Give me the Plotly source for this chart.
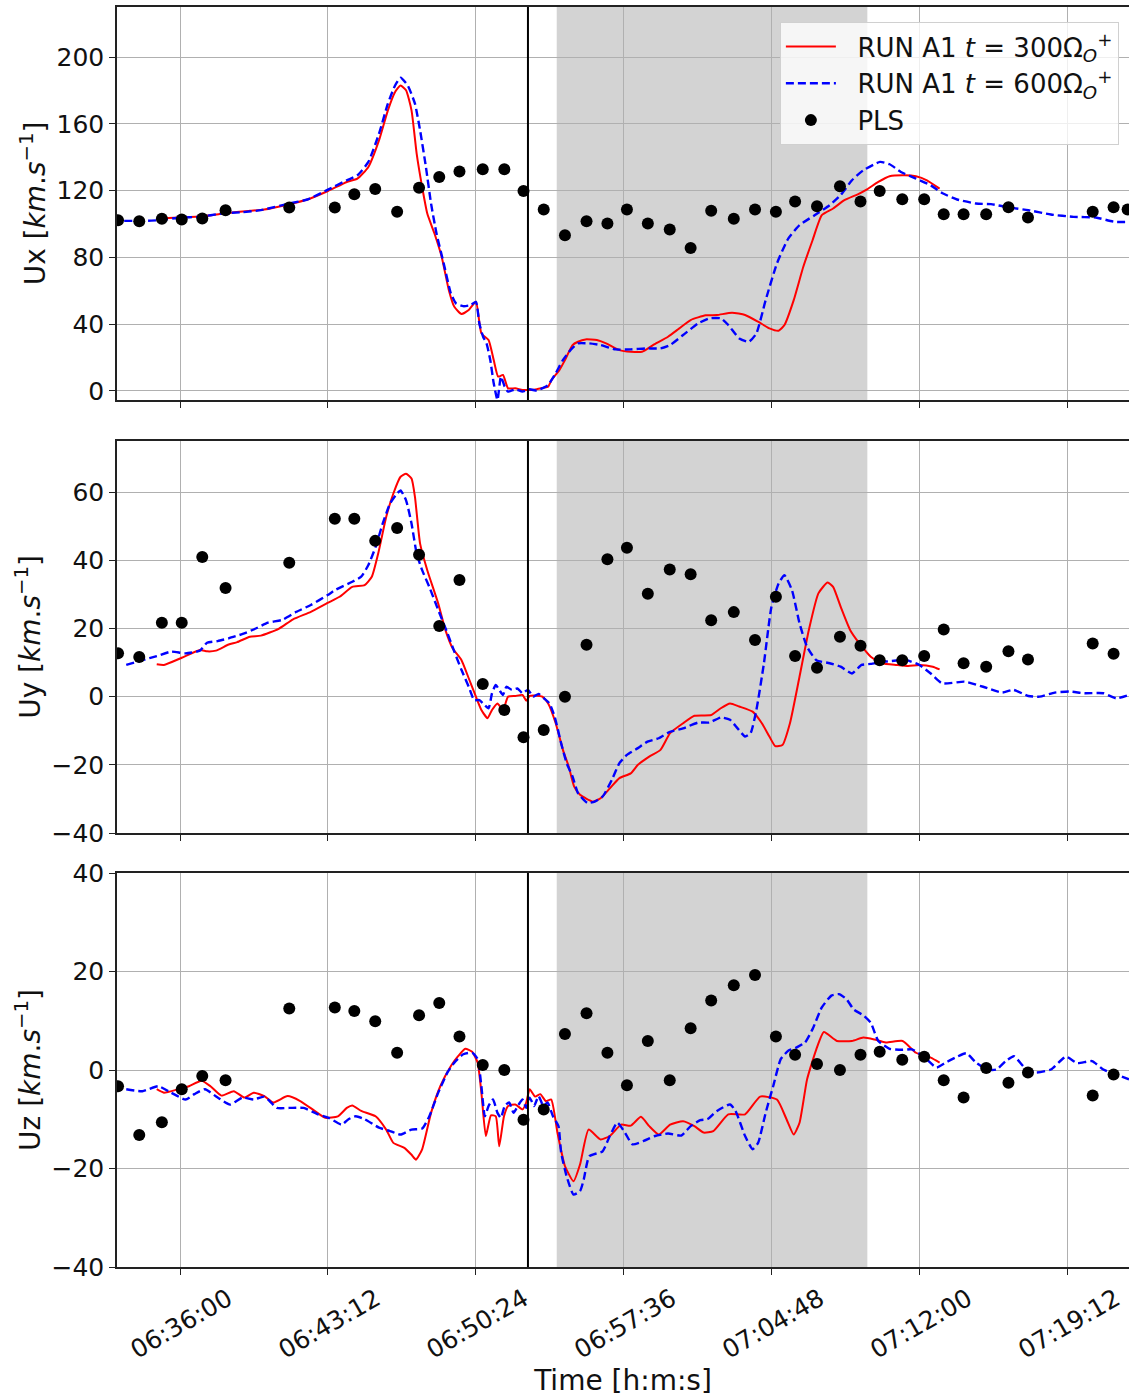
import pandas as pd
import plotly.graph_objects as go
from plotly.subplots import make_subplots

# ---- time reference: values below are minutes after 06:30:00 ----
BASE = pd.Timestamp("2000-01-01 06:30:00")

# ---------------- PLS observations ----------------
pls_t = [2.98, 4.01, 5.11, 6.09, 7.08, 8.22, 11.32, 13.54, 14.48, 15.50, 16.56, 17.63,
         18.62, 19.60, 20.73, 21.78, 22.72, 23.70, 24.73, 25.79, 26.80, 27.75, 28.77,
         29.83, 30.85, 31.85, 32.95, 33.99, 35.00, 35.94, 37.00, 38.12, 39.12, 40.05,
         41.15, 42.21, 43.16, 44.13, 45.24, 46.32, 47.27, 50.41, 51.43, 52.12]
pls_ux = [102.3, 101.7, 103.1, 102.7, 103.3, 108.3, 109.9, 109.9, 117.8, 121.0, 107.3, 121.8,
          128.2, 131.4, 132.8, 132.8, 119.8, 108.7, 93.3, 101.7, 100.3, 108.7, 100.3,
          96.7, 85.7, 107.9, 103.1, 108.7, 107.3, 113.5, 110.7, 122.6, 113.5, 119.8,
          114.9, 114.9, 105.9, 105.9, 105.9, 110.1, 103.9, 107.3, 110.1, 108.7]
pls_uy = [12.7, 11.6, 21.7, 21.7, 41.0, 31.9, 39.3, 52.2, 52.2, 45.7, 49.5, 41.6,
          20.7, 34.2, 3.7, -3.9, -11.9, -9.8, 0.0, 15.2, 40.3, 43.7, 30.2,
          37.3, 35.9, 22.4, 24.8, 16.6, 29.3, 11.9, 8.5, 17.6, 14.9, 10.7,
          10.7, 11.9, 19.7, 9.8, 8.8, 13.3, 10.9, 15.6, 12.6, None]
pls_uz = [-3.3, -13.2, -10.6, -3.9, -1.2, -2.1, 12.5, 12.7, 12.0, 9.9, 3.5, 11.1,
          13.6, 6.8, 1.0, 0.0, -10.1, -8.0, 7.3, 11.5, 3.5, -3.1, 5.9,
          -2.1, 8.5, 14.1, 17.2, 19.3, 6.8, 3.1, 1.2, 0.0, 3.1, 3.7,
          2.1, 2.7, -2.1, -5.6, 0.4, -2.6, -0.5, -5.2, -0.9, None]

# ---------------- RUN A1 t=300 (red) ----------------
r_ux_t = [4.87, 6.0, 7.13, 8.36, 9.40, 10.1, 11.32, 12.2, 13.2, 14.12, 14.64, 15.16, 15.69,
          16.12, 16.47, 16.73, 17.0, 17.26, 17.52, 17.78, 18.04, 18.39, 18.74, 19.09, 19.35,
          19.70, 20.05, 20.40, 20.66, 21.01, 21.27, 21.48, 21.71, 21.97, 22.32, 22.67, 23.02,
          23.37, 23.70, 23.91, 24.09, 24.46, 24.73, 25.1, 25.37, 25.74, 26.29, 26.74, 27.38,
          27.93, 28.48, 29.02, 29.75, 30.3, 30.85, 31.58, 32.13, 32.86, 33.5, 34.14, 34.68,
          35.14, 35.42, 35.87, 36.33, 36.78, 37.24, 37.79, 38.34, 38.98, 39.43, 39.98, 40.53,
          41.26, 41.81, 42.35, 42.96]
r_ux = [103.3, 103.9, 104.7, 106.7, 107.9, 108.7, 111.9, 114.7, 119.8, 125.2, 127.2, 134.2, 150.1,
        168.1, 179.1, 183.0, 180.1, 168.1, 142.2, 122.2, 106.3, 94.3, 80.4, 60.4, 50.4,
        46.1, 48.5, 53.4, 34.5, 30.5, 18.5, 8.6, 9.6, 1.6, 1.6, 0.6, 0.6,
        1.0, 2.0, 2.6, 6.6, 12.6, 18.5, 27.5, 29.5, 30.9, 30.5, 28.5, 24.5,
        23.5, 23.5, 27.5, 32.5, 37.5, 42.5, 45.3, 45.5, 46.9, 45.5, 41.5, 37.5,
        36.1, 39.5, 54.4, 74.4, 90.3, 105.3, 109.3, 114.3, 117.8, 120.8, 125.2, 128.6,
        129.2, 128.6, 126.2, 121.2]

r_uy_t = [4.87, 5.21, 6.09, 6.96, 7.31, 7.75, 8.36, 8.79, 9.40, 9.93, 10.80, 11.50, 12.37,
          13.19, 13.77, 14.38, 14.99, 15.34, 15.69, 16.04, 16.39, 16.73, 17.0, 17.26, 17.43,
          17.69, 18.04, 18.57, 18.92, 19.27, 19.70, 20.05, 20.40, 20.66, 20.96, 21.19, 21.45,
          21.71, 21.97, 22.32, 22.67, 22.85, 23.02, 23.37, 23.63, 23.91, 24.28, 24.64, 24.92,
          25.19, 25.46, 25.74, 26.1, 26.47, 26.92, 27.38, 27.93, 28.29, 28.84, 29.39, 29.85,
          30.49, 31.03, 31.85, 32.31, 32.77, 33.22, 33.86, 34.32, 34.68, 34.96, 35.32, 35.69,
          36.15, 36.6, 37.06, 37.52, 37.79, 38.15, 38.61, 39.07, 39.62, 40.16, 40.89, 41.44,
          41.99, 42.63, 42.96]
r_uy = [9.5, 9.3, 11.4, 13.7, 13.3, 13.5, 15.3, 16.0, 17.6, 17.9, 19.9, 22.7, 24.9,
        27.5, 29.3, 32.2, 32.7, 35.2, 43.0, 52.7, 59.6, 64.5, 65.4, 64.0, 58.6,
        44.9, 37.1, 27.3, 19.5, 14.2, 10.7, 5.4, 0.0, -3.9, -6.3, -3.9, -2.0,
        -3.9, 0.0, 0.2, 0.5, -1.2, 0.2, 0.3, 0.0, -2.0, -7.8, -15.6, -20.5,
        -26.4, -28.8, -29.8, -30.8, -29.8, -26.9, -23.9, -22.5, -20.0, -17.6, -15.6, -10.7,
        -7.8, -5.6, -5.4, -3.4, -2.0, -2.9, -4.4, -7.8, -11.7, -14.5, -14.2, -7.8,
        5.9, 19.5, 30.3, 33.5, 32.2, 26.4, 19.5, 15.6, 11.7, 9.8, 9.3, 9.0,
        9.3, 8.8, 8.0]

r_uz_t = [4.87, 5.21, 5.91, 6.44, 7.05, 7.48, 8.01, 8.62, 9.14, 9.58, 10.1, 10.54, 11.24,
          11.85, 12.55, 13.07, 13.68, 14.12, 14.38, 14.81, 15.51, 16.04, 16.39, 16.91, 17.26,
          17.49, 17.78, 18.22, 18.66, 19.18, 19.53, 19.88, 20.22, 20.49, 20.66, 20.89, 21.13,
          21.36, 21.54, 21.76, 21.97, 22.32, 22.67, 22.85, 23.02, 23.28, 23.54, 23.80, 24.06,
          24.37, 24.73, 25.15, 25.46, 25.88, 26.47, 26.92, 27.47, 27.93, 28.44, 28.84, 29.3,
          29.85, 30.49, 31.03, 31.49, 31.95, 32.68, 33.5, 34.23, 35.05, 35.51, 35.87, 36.15,
          36.51, 36.97, 37.33, 37.97, 38.7, 39.25, 39.8, 40.35, 41.17, 41.81, 42.54, 42.96]
r_uz = [-3.9, -4.6, -3.9, -3.3, -2.2, -3.3, -5.2, -4.3, -5.6, -4.6, -5.3, -6.6, -5.3,
        -6.3, -8.3, -9.7, -9.4, -7.7, -7.2, -8.3, -9.4, -12.1, -14.8, -15.8, -17.2,
        -18.2, -16.1, -8.7, -3.3, 0.8, 2.8, 4.3, 3.7, 1.5, -4.6, -13.4, -9.2,
        -9.4, -15.5, -9.4, -7.3, -7.0, -8.0, -6.6, -3.9, -5.4, -4.9, -6.3, -6.0,
        -12.7, -19.5, -22.6, -19.2, -12.1, -14.1, -13.4, -11.1, -11.3, -9.5, -11.4, -13.1,
        -11.1, -10.4, -11.4, -12.7, -12.4, -9.0, -9.0, -5.4, -6.0, -10.0, -13.1, -10.7,
        -1.9, 4.2, 7.7, 5.9, 5.9, 6.6, 6.2, 5.6, 5.9, 3.5, 2.5, 1.5]

# ---------------- RUN A1 t=600 (blue) ----------------
b_ux_t = [3.29, 4.17, 5.04, 6.0, 6.96, 8.01, 9.05, 9.93, 11.32, 12.2, 13.2, 14.12, 14.64,
          15.16, 15.69, 16.12, 16.47, 16.73, 17.08, 17.43, 17.69, 17.96, 18.22, 18.48, 18.83,
          19.18, 19.44, 19.79, 20.14, 20.40, 20.57, 20.75, 20.92, 21.10, 21.27, 21.45, 21.62,
          21.80, 21.97, 22.32, 22.67, 23.02, 23.37, 23.70, 23.91, 24.28, 24.64, 25.0, 25.37,
          25.92, 26.47, 27.2, 27.93, 28.66, 29.39, 29.85, 30.49, 31.22, 31.76, 32.31, 32.68,
          33.22, 33.68, 34.05, 34.5, 35.05, 35.6, 36.15, 36.88, 37.61, 38.15, 38.7, 39.25,
          40.07, 40.53, 41.08, 41.81, 42.54, 43.08, 43.81, 44.73, 45.46, 46.37, 47.28, 48.38,
          49.48, 50.57, 51.48, 52.18]
b_ux = [101.9, 101.9, 102.3, 103.9, 104.3, 106.3, 107.1, 108.3, 112.3, 114.7, 120.6, 126.2, 129.2,
        137.2, 154.1, 172.1, 183.0, 187.6, 183.0, 172.1, 156.1, 134.2, 112.3, 94.3, 76.4,
        58.4, 52.4, 50.8, 51.4, 53.4, 40.5, 32.5, 28.5, 18.5, 4.6, -5.4, 8.6,
        2.6, -0.4, 1.0, -0.4, 1.0, 0.2, 2.0, 3.6, 10.6, 18.5, 24.5, 28.5,
        28.5, 27.5, 24.9, 24.9, 25.5, 25.5, 27.5, 33.5, 40.5, 43.5, 43.5, 39.5,
        31.5, 29.5, 34.5, 54.4, 76.4, 91.3, 99.3, 105.3, 111.3, 117.3, 126.2, 132.2,
        137.2, 135.8, 131.2, 127.2, 123.2, 118.6, 114.7, 112.3, 111.9, 109.9, 108.3, 105.7,
        104.3, 103.9, 101.3, 101.3]

b_uy_t = [3.38, 4.17, 4.87, 5.56, 6.26, 6.96, 7.31, 7.83, 8.36, 9.05, 9.58, 10.28, 10.97,
          11.67, 12.37, 13.19, 13.59, 14.38, 14.81, 15.16, 15.51, 15.86, 16.21, 16.56, 16.73,
          17.0, 17.26, 17.52, 17.78, 18.13, 18.57, 19.01, 19.35, 19.70, 20.05, 20.31, 20.57,
          20.75, 21.01, 21.19, 21.36, 21.54, 21.71, 21.89, 22.15, 22.41, 22.67, 22.93, 23.19,
          23.45, 23.71, 23.98, 24.24, 24.55, 24.82, 25.1, 25.37, 25.65, 25.83, 26.19, 26.56,
          27.02, 27.38, 27.75, 28.29, 28.75, 29.3, 29.85, 30.49, 31.22, 31.76, 32.31, 32.77,
          33.13, 33.5, 33.77, 34.05, 34.41, 34.78, 35.14, 35.42, 35.78, 36.15, 36.51, 36.97,
          37.61, 38.15, 38.7, 39.16, 39.62, 40.35, 41.35, 41.99, 42.54, 43.08, 44.18, 45.09,
          46.01, 46.55, 47.28, 47.83, 48.56, 49.29, 50.02, 50.93, 51.57, 52.18]
b_uy = [9.3, 10.7, 11.9, 13.2, 12.7, 13.5, 15.8, 16.3, 17.1, 18.4, 19.7, 21.7, 22.5,
        24.9, 26.9, 29.8, 31.4, 33.7, 35.2, 38.6, 43.9, 50.8, 56.6, 59.6, 60.5,
        57.6, 50.8, 42.0, 37.1, 32.2, 25.4, 18.6, 13.2, 7.8, 2.9, -1.0, -1.0,
        -2.0, -3.4, 1.0, 3.4, 2.0, 0.5, 2.9, 2.0, 2.4, 1.0, 2.0, 0.0,
        0.8, -0.5, -2.0, -5.9, -13.7, -19.5, -23.4, -28.3, -30.3, -31.2, -30.8, -29.3,
        -24.4, -19.5, -17.1, -15.1, -13.2, -12.2, -10.3, -9.3, -7.6, -7.6, -6.1, -6.8,
        -9.3, -11.7, -10.7, -3.9, 9.8, 26.4, 33.2, 35.6, 31.2, 21.5, 14.6, 10.7,
        9.8, 8.8, 6.8, 9.3, 9.6, 10.3, 10.7, 9.3, 6.8, 3.9, 4.4, 2.9,
        1.2, 2.0, 0.2, 0.0, 1.2, 1.5, 1.0, 1.0, -0.5, 0.5]

b_uz_t = [3.38, 4.17, 4.95, 5.56, 6.26, 6.70, 7.22, 7.83, 8.44, 9.05, 9.58, 10.1, 10.71,
          11.32, 12.02, 12.72, 13.24, 13.86, 14.2, 14.55, 14.99, 15.69, 16.21, 16.73, 17.26,
          17.78, 18.13, 18.57, 19.01, 19.35, 19.79, 20.22, 20.49, 20.66, 20.84, 21.01, 21.24,
          21.45, 21.62, 21.80, 22.01, 22.23, 22.49, 22.67, 22.85, 23.02, 23.23, 23.45, 23.68,
          23.89, 24.15, 24.41, 24.55, 24.82, 25.15, 25.46, 25.65, 25.92, 26.56, 26.92, 27.29,
          27.65, 28.02, 28.57, 29.12, 29.75, 30.4, 30.85, 31.31, 31.67, 32.13, 32.77, 33.04,
          33.5, 33.86, 34.14, 34.5, 34.87, 35.23, 35.6, 35.96, 36.42, 36.78, 37.24, 37.7,
          38.06, 38.43, 38.79, 39.25, 39.62, 39.98, 40.53, 41.17, 41.62, 42.17, 42.81, 43.27,
          43.72, 44.27, 44.73, 45.28, 45.73, 46.19, 46.59, 47.1, 47.65, 48.38, 49.11, 49.66,
          50.39, 50.93, 51.57, 52.18]
b_uz = [-3.9, -4.3, -3.3, -4.6, -6.0, -4.9, -3.9, -5.6, -7.0, -5.6, -6.0, -5.4, -7.7,
        -7.7, -7.7, -9.0, -9.7, -11.1, -10.0, -9.4, -10.0, -11.7, -12.4, -13.1, -12.1,
        -11.9, -9.4, -4.6, -0.5, 1.5, 3.2, 3.5, 2.2, -3.3, -9.4, -7.3, -6.0,
        -8.7, -9.7, -7.3, -6.6, -8.7, -7.0, -6.0, -7.7, -5.6, -7.3, -5.3, -7.3,
        -6.6, -9.4, -11.4, -16.8, -21.6, -25.3, -24.6, -22.2, -17.5, -16.5, -13.4, -10.7,
        -12.7, -15.1, -14.4, -13.4, -12.9, -13.3, -11.4, -10.2, -10.0, -8.3, -7.0, -8.3,
        -13.4, -16.1, -14.8, -8.7, -3.3, 2.2, 3.9, 4.5, 5.6, 8.3, 12.7, 15.1,
        15.4, 14.4, 12.3, 11.1, 9.6, 5.9, 4.3, 4.1, 4.2, 2.8, 0.5, 1.5,
        2.5, 3.4, 1.5, 0.1, 0.1, 1.8, 2.8, 0.5, -0.5, 0.1, 2.7, 1.4,
        1.8, 0.1, -0.9, -1.9]

# ---------------- axes / annotations values ----------------
x_range = [2.93, 52.18]
x_ticks = [6.0, 13.2, 20.4, 27.6, 34.8, 42.0, 49.2]
event_line = 22.93
shade_span = [24.33, 39.45]
y_ranges = [[-5.4, 230], [-40, 75], [-40, 40]]
y_ticks = [[0, 40, 80, 120, 160, 200], [-40, -20, 0, 20, 40, 60], [-40, -20, 0, 20, 40]]
y_titles = ["Ux [<i>km</i>.<i>s</i><sup>−1</sup>]",
            "Uy [<i>km</i>.<i>s</i><sup>−1</sup>]",
            "Uz [<i>km</i>.<i>s</i><sup>−1</sup>]"]
NB = "\u00a0\u00a0"
leg_red = NB + "RUN A1 <i>t</i> = 300Ω<sub><i>O</i></sub><sup>+</sup>"
leg_blue = NB + "RUN A1 <i>t</i> = 600Ω<sub><i>O</i></sub><sup>+</sup>"
leg_pls = NB + "PLS"


def to_dt(mins):
    return [BASE + pd.Timedelta(seconds=round(m * 60)) for m in mins]


FONT = "DejaVu Sans"
TICK_SIZE = 25
TITLE_SIZE = 28
LEGEND_SIZE = 26
W, H = 1129, 1400
ML, MR, MT, MB = 117, 0, 7, 133
plot_h = H - MT - MB
# panel pixel bounds (top, bottom)
panels_px = [(7, 400), (441, 833), (873, 1267)]
domains = [[(H - MB - b) / plot_h, (H - MB - t) / plot_h] for t, b in panels_px]

fig = make_subplots(rows=3, cols=1)

series = [
    (r_ux_t, r_ux, b_ux_t, b_ux, pls_ux),
    (r_uy_t, r_uy, b_uy_t, b_uy, pls_uy),
    (r_uz_t, r_uz, b_uz_t, b_uz, pls_uz),
]

for i, (rt, rv, bt, bv, pv) in enumerate(series):
    row = i + 1
    first = i == 0
    fig.add_trace(go.Scatter(x=to_dt(rt), y=rv, mode="lines", name=leg_red,
                             line=dict(color="#ff0000", width=2, shape="spline", smoothing=0.5),
                             showlegend=first, legendrank=1), row=row, col=1)
    fig.add_trace(go.Scatter(x=to_dt(bt), y=bv, mode="lines", name=leg_blue,
                             line=dict(color="#0000ff", width=2.4, dash="8px,4px",
                                       shape="spline", smoothing=0.5),
                             showlegend=first, legendrank=2), row=row, col=1)
    fig.add_trace(go.Scatter(x=to_dt(pls_t), y=pv, mode="markers", name=leg_pls,
                             marker=dict(color="black", size=12), showlegend=first,
                             legendrank=3), row=row, col=1)

    xa = "x" if row == 1 else f"x{row}"
    ya = "y" if row == 1 else f"y{row}"
    fig.add_shape(type="rect", xref=xa, yref=f"{ya} domain",
                  x0=to_dt([shade_span[0]])[0], x1=to_dt([shade_span[1]])[0], y0=0, y1=1,
                  fillcolor="#d3d3d3", line=dict(width=0), layer="below")
    fig.add_shape(type="line", xref=xa, yref=f"{ya} domain",
                  x0=to_dt([event_line])[0], x1=to_dt([event_line])[0], y0=0, y1=1,
                  line=dict(color="black", width=2), layer="above")

    fig.update_xaxes(row=row, col=1, type="date", range=to_dt(x_range),
                     tickvals=to_dt(x_ticks), tickformat="%H:%M:%S",
                     showticklabels=(row == 3), tickangle=-30,
                     ticklabelshift=48,
                     showgrid=True, gridcolor="#b0b0b0", gridwidth=1,
                     showline=True, linecolor="#222222", linewidth=1.5, mirror=True,
                     ticks="outside", ticklen=6, tickwidth=1.2, tickcolor="#222222",
                     tickfont=dict(family=FONT, size=TICK_SIZE, color="#111111"),
                     zeroline=False, automargin=False)
    fig.update_yaxes(row=row, col=1, range=y_ranges[i], tickvals=y_ticks[i],
                     ticktext=[str(v).replace("-", "−") for v in y_ticks[i]],
                     domain=domains[i],
                     showgrid=True, gridcolor="#b0b0b0", gridwidth=1,
                     showline=True, linecolor="#222222", linewidth=1.5,
                     ticks="outside", ticklen=6, tickwidth=1.2, tickcolor="#222222",
                     tickfont=dict(family=FONT, size=TICK_SIZE, color="#111111"),
                     title=dict(text=y_titles[i], font=dict(family=FONT, size=TITLE_SIZE, color="#111111"),
                                standoff=3),
                     zeroline=False, automargin=False)

fig.update_xaxes(row=3, col=1,
                 title=dict(text="Time [h:m:s]", font=dict(family=FONT, size=TITLE_SIZE, color="#111111"),
                            standoff=6))

fig.update_layout(
    width=W, height=H,
    margin=dict(l=ML, r=MR, t=MT, b=MB, autoexpand=False),
    plot_bgcolor="white", paper_bgcolor="white",
    font=dict(family=FONT, size=TICK_SIZE, color="#111111"),
    legend=dict(x=0.990, y=0.988, xanchor="right", yanchor="top",
                bgcolor="rgba(255,255,255,0.8)", bordercolor="#d0d0d0", borderwidth=1,
                font=dict(family=FONT, size=LEGEND_SIZE, color="#111111"),
                tracegroupgap=0, itemwidth=50),
)

fig.write_html("out.html",
               config={"displayModeBar": False},
               post_script="document.body.style.margin='0';document.body.style.overflow='hidden';")
